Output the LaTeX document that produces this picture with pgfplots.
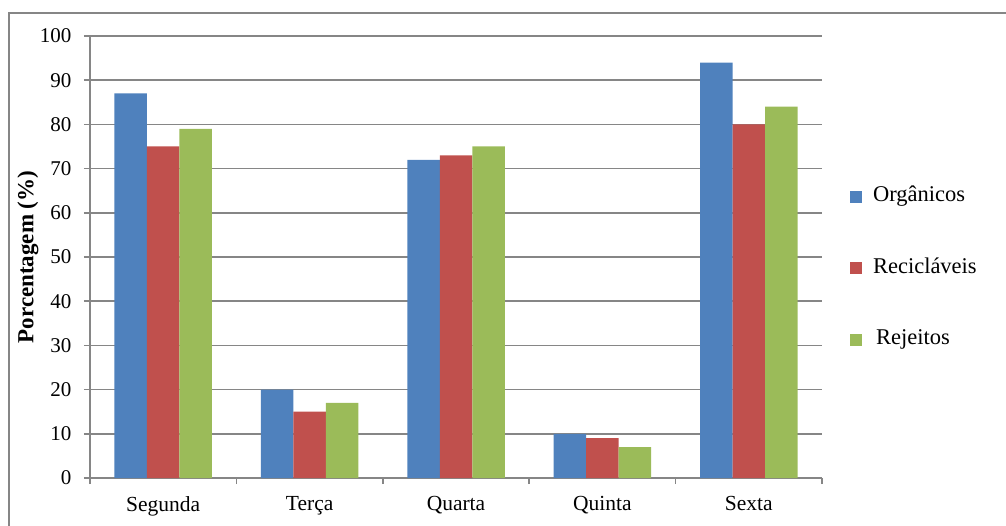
\documentclass[border=0pt]{standalone}
\usepackage{fontspec}
\setmainfont{Liberation Serif}
\usepackage{pgfplots}
\pgfplotsset{compat=1.18}
\definecolor{gridgray}{RGB}{134,134,134}
\definecolor{orgblue}{RGB}{79,129,189}
\definecolor{recred}{RGB}{192,80,77}
\definecolor{rejgreen}{RGB}{155,187,89}
\pgfplotsset{
  sqlegend/.style={legend image code/.code={\fill[##1] (0pt,-6pt) rectangle (12pt,6pt);}},
}
\begin{document}
\begin{tikzpicture}[x=1pt,y=1pt]
\useasboundingbox (0,0) rectangle (1006,525);
% frame of the chart area (left and top edges)
\draw[gridgray, line width=1.5pt] (9,-5) -- (9,512) -- (1011,512);
\begin{axis}[
  at={(90pt,47pt)}, anchor=south west,
  scale only axis, width=732pt, height=442pt,
  ybar, bar width=32.5pt,
  xmin=0.5, xmax=5.5, ymin=0, ymax=100,
  xtick={1,...,5}, xticklabels={Segunda,Terça,Quarta,Quinta,Sexta},
  major x tick style={draw=none},
  extra x ticks={0.5,1.5,2.5,3.5,4.5,5.5}, extra x tick labels={},
  extra x tick style={grid=none, major tick length=6pt, tick align=outside,
    major x tick style={draw=gridgray, line width=1.5pt}},
  ytick={0,10,...,100},
  ymajorgrids, grid style={gridgray, line width=1.5pt},
  axis x line*=bottom, axis y line*=left,
  axis line style={gridgray, line width=1.5pt, -},
  tick align=outside, major tick length=6pt,
  y tick style={gridgray, line width=1.5pt},
  /pgf/number format/assume math mode=true,
  yticklabel style={font=\fontsize{21}{24}\selectfont, xshift=-9pt},
  xticklabel style={font=\fontsize{21.5}{24}\selectfont, yshift=-9pt},
  ylabel={\bfseries Porcentagem (\%)},
  ylabel style={font=\fontsize{23}{26}\selectfont, at={(axis description cs:-0.0847,0.5)}, anchor=center},
  legend style={at={(axis description cs:1.038,0.474)}, anchor=west, draw=none, fill=none,
    font=\fontsize{22.5}{25}\selectfont, row sep=47.5pt, column sep=9pt, inner sep=0pt,
    nodes={text height=15pt, text depth=5pt}},
  legend cell align=left,
]
\addplot[fill=orgblue, draw=none, bar shift=-32.5pt, sqlegend] coordinates {(1,87) (2,20) (3,72) (4,10) (5,94)};
\addplot[fill=recred, draw=none, bar shift=0pt, sqlegend] coordinates {(1,75) (2,15) (3,73) (4,9) (5,80)};
\addplot[fill=rejgreen, draw=none, bar shift=32.5pt, sqlegend] coordinates {(1,79) (2,17) (3,75) (4,7) (5,84)};
\legend{Orgânicos, Recicláveis, \hspace{3pt}Rejeitos}
\end{axis}
\end{tikzpicture}
\end{document}
